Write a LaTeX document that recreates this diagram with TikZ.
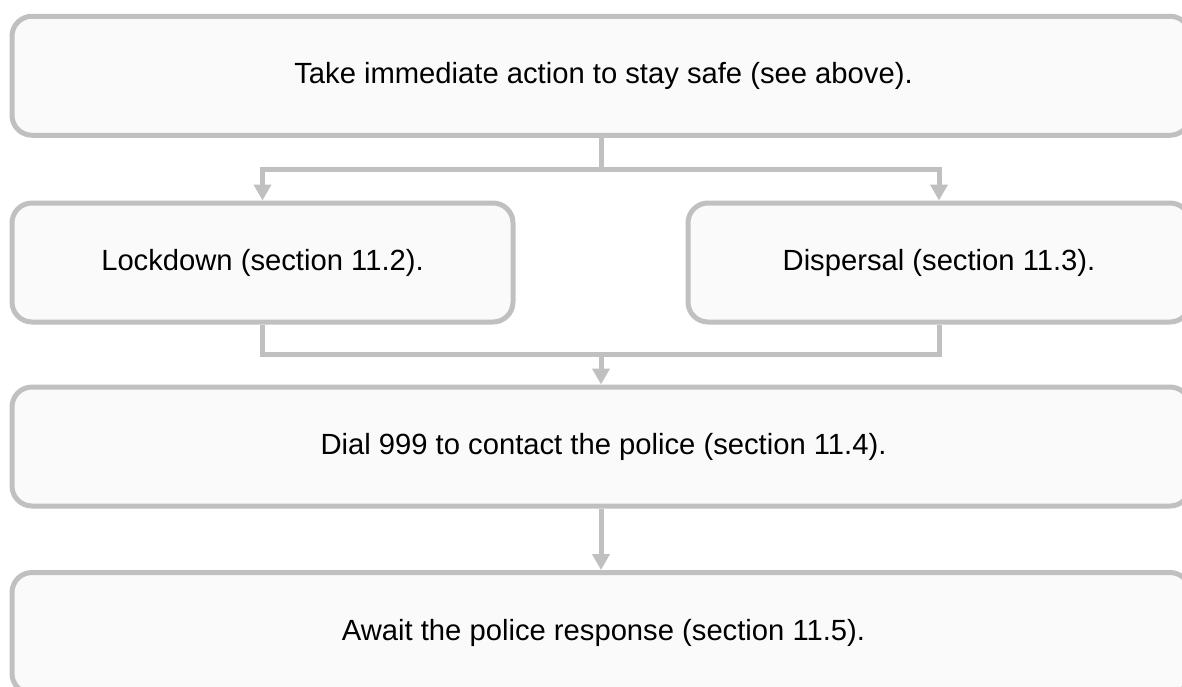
\documentclass[tikz,border=0pt]{standalone}
\usepackage{fontspec}
\setmainfont{Liberation Sans}
\usetikzlibrary{arrows.meta}
\definecolor{edgegray}{HTML}{C0C0C0}
\definecolor{boxfill}{HTML}{FAFAFA}
\begin{document}
\begin{tikzpicture}[x=1pt,y=-1pt,
  box/.style={draw=edgegray, fill=boxfill, line width=5pt, rounded corners=20pt,
    minimum height=119pt, inner sep=0pt, font=\fontsize{29.2}{33}\selectfont, text=black},
  conn/.style={draw=edgegray, line width=5pt},
  arr/.style={conn, -{Triangle[width=17pt,length=16pt]}}]
\useasboundingbox (0,0) rectangle (1182,686);
\node[box, minimum width=1178pt] (top) at (601,75.75) {\hspace*{5pt}Take immediate action to stay safe (see above).};
\node[box, minimum width=501pt] (lock) at (262.5,262.5) {Lockdown (section 11.2).};
\node[box, minimum width=502pt] (disp) at (939,262.5) {Dispersal (section 11.3).};
\node[box, minimum width=1178pt] (dial) at (601,446.5) {\hspace*{5pt}Dial 999 to contact the police (section 11.4).};
\node[box, minimum width=1178pt, minimum height=121pt] (await) at (601,633) {\hspace*{5pt}Await the police response (section 11.5).};
\coordinate (j1) at (601,169);
\coordinate (j2) at (601,354);
\draw[conn] (top.south) -- (j1);
\draw[arr] (j1) -| (lock.north);
\draw[arr] (j1) -| (disp.north);
\draw[conn] (lock.south) -- (lock.south |- j2) -- (disp.south |- j2) -- (disp.south);
\draw[arr] (j2) -- (dial.north);
\draw[arr] (dial.south) -- (await.north);
\end{tikzpicture}
\end{document}
